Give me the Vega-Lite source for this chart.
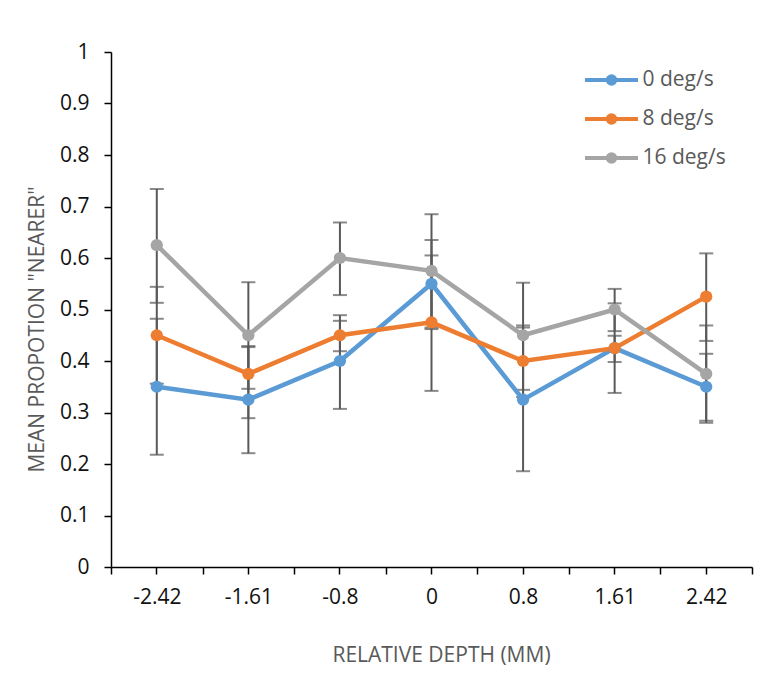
{
  "$schema": "https://vega.github.io/schema/vega-lite/v6.json",
  "width": 641,
  "height": 515,
  "autosize": {"type": "none"},
  "padding": {"left": 111, "top": 52, "right": 18, "bottom": 116},
  "background": "white",
  "config": {
    "view": {"stroke": null},
    "font": "Open Sans",
    "axis": {
      "domainColor": "#000000",
      "domainWidth": 1.5,
      "tickColor": "#000000",
      "tickWidth": 1.5,
      "tickSize": 7,
      "labelFont": "Open Sans",
      "labelFontSize": 21,
      "labelColor": "#111111",
      "titleFont": "Open Sans",
      "titleFontSize": 21,
      "titleFontWeight": "normal",
      "titleColor": "#595959",
      "grid": false
    }
  },
  "resolve": {"axis": {"x": "independent"}},
  "data": {
    "values": [
      {"depth": "-2.42", "series": "0 deg/s", "mean": 0.35, "lo": 0.218, "hi": 0.482},
      {"depth": "-1.61", "series": "0 deg/s", "mean": 0.325, "lo": 0.221, "hi": 0.429},
      {"depth": "-0.8", "series": "0 deg/s", "mean": 0.4, "lo": 0.307, "hi": 0.489},
      {"depth": "0", "series": "0 deg/s", "mean": 0.55, "lo": 0.465, "hi": 0.635},
      {"depth": "0.8", "series": "0 deg/s", "mean": 0.325, "lo": 0.186, "hi": 0.465},
      {"depth": "1.61", "series": "0 deg/s", "mean": 0.425, "lo": 0.338, "hi": 0.512},
      {"depth": "2.42", "series": "0 deg/s", "mean": 0.35, "lo": 0.284, "hi": 0.414},
      {"depth": "-2.42", "series": "8 deg/s", "mean": 0.45, "lo": 0.356, "hi": 0.544},
      {"depth": "-1.61", "series": "8 deg/s", "mean": 0.375, "lo": 0.289, "hi": 0.427},
      {"depth": "-0.8", "series": "8 deg/s", "mean": 0.45, "lo": 0.419, "hi": 0.478},
      {"depth": "0", "series": "8 deg/s", "mean": 0.475, "lo": 0.342, "hi": 0.605},
      {"depth": "0.8", "series": "8 deg/s", "mean": 0.4, "lo": 0.33, "hi": 0.469},
      {"depth": "1.61", "series": "8 deg/s", "mean": 0.425, "lo": 0.398, "hi": 0.449},
      {"depth": "2.42", "series": "8 deg/s", "mean": 0.525, "lo": 0.439, "hi": 0.609},
      {"depth": "-2.42", "series": "16 deg/s", "mean": 0.625, "lo": 0.513, "hi": 0.734},
      {"depth": "-1.61", "series": "16 deg/s", "mean": 0.45, "lo": 0.346, "hi": 0.553},
      {"depth": "-0.8", "series": "16 deg/s", "mean": 0.6, "lo": 0.528, "hi": 0.669},
      {"depth": "0", "series": "16 deg/s", "mean": 0.575, "lo": 0.462, "hi": 0.685},
      {"depth": "0.8", "series": "16 deg/s", "mean": 0.45, "lo": 0.344, "hi": 0.552},
      {"depth": "1.61", "series": "16 deg/s", "mean": 0.5, "lo": 0.458, "hi": 0.54},
      {"depth": "2.42", "series": "16 deg/s", "mean": 0.375, "lo": 0.28, "hi": 0.469}
    ]
  },
  "layer": [
    {
      "mark": {"type": "rule", "color": "#595959", "strokeWidth": 2},
      "encoding": {
        "x": {
          "field": "depth", "type": "ordinal",
          "sort": ["-2.42", "-1.61", "-0.8", "0", "0.8", "1.61", "2.42"],
          "scale": {"type": "band", "paddingInner": 0, "paddingOuter": 0},
          "axis": {
            "orient": "bottom",
            "title": "RELATIVE DEPTH (MM)",
            "labelAngle": 0,
            "labelPadding": 12,
            "tickBand": "extent",
            "titleX": 330,
            "titleY": 94,
            "titleAnchor": null,
            "titleAlign": "center",
            "titleBaseline": "alphabetic"
          }
        },
        "y": {
          "field": "lo", "type": "quantitative",
          "scale": {"domain": [0, 1], "nice": false, "zero": true},
          "axis": {
            "title": "MEAN PROPOTION \"NEARER\"",
            "values": [0, 0.05, 0.1, 0.15, 0.2, 0.25, 0.3, 0.35, 0.4, 0.45, 0.5, 0.55, 0.6, 0.65, 0.7, 0.75, 0.8, 0.85, 0.9, 0.95, 1],
            "labelExpr": "round(datum.value * 20) % 2 == 1 ? '' : format(datum.value, '.1~f')",
            "labelPadding": 15,
            "titleX": -68,
            "titleY": 277,
            "titleAngle": -90,
            "titleAnchor": null,
            "titleAlign": "center",
            "titleBaseline": "alphabetic"
          }
        },
        "y2": {"field": "hi"}
      }
    },
    {
      "mark": {"type": "tick", "color": "#595959", "thickness": 2, "size": 14, "orient": "horizontal"},
      "encoding": {
        "x": {
          "field": "depth", "type": "ordinal",
          "sort": ["-2.42", "-1.61", "-0.8", "0", "0.8", "1.61", "2.42"],
          "axis": {"orient": "bottom", "title": null, "labels": false, "domain": false, "tickBand": "center", "ticks": true}
        },
        "y": {"field": "lo", "type": "quantitative"}
      }
    },
    {
      "mark": {"type": "tick", "color": "#595959", "thickness": 2, "size": 14, "orient": "horizontal"},
      "encoding": {
        "x": {"field": "depth", "type": "ordinal", "sort": ["-2.42", "-1.61", "-0.8", "0", "0.8", "1.61", "2.42"], "axis": null},
        "y": {"field": "hi", "type": "quantitative"}
      }
    },
    {
      "mark": {"type": "line", "strokeWidth": 4.5},
      "encoding": {
        "x": {"field": "depth", "type": "ordinal", "sort": ["-2.42", "-1.61", "-0.8", "0", "0.8", "1.61", "2.42"], "axis": null},
        "y": {"field": "mean", "type": "quantitative"},
        "color": {
          "field": "series", "type": "nominal",
          "scale": {"domain": ["0 deg/s", "8 deg/s", "16 deg/s"], "range": ["#5B9BD5", "#ED7D31", "#A5A5A5"]},
          "legend": {
            "title": null,
            "orient": "none",
            "legendX": 488.5,
            "legendY": 16,
            "padding": 0,
            "symbolType": "M-2.65,0L2.65,0M0.38,0A0.38,0.38,0,1,1,-0.38,0A0.38,0.38,0,1,1,0.38,0Z",
            "symbolSize": 400,
            "symbolStrokeWidth": 4,
            "labelFont": "Open Sans",
            "labelFontSize": 21,
            "labelColor": "#595959",
            "labelOffset": 19,
            "rowPadding": 15
          }
        }
      }
    },
    {
      "mark": {"type": "point", "filled": true, "size": 150, "opacity": 1},
      "encoding": {
        "x": {"field": "depth", "type": "ordinal", "sort": ["-2.42", "-1.61", "-0.8", "0", "0.8", "1.61", "2.42"], "axis": null},
        "y": {"field": "mean", "type": "quantitative"},
        "color": {"field": "series", "type": "nominal", "legend": null}
      }
    }
  ]
}
